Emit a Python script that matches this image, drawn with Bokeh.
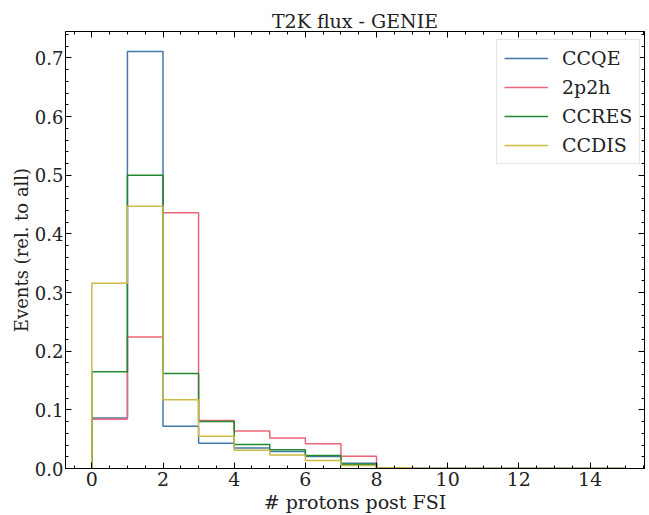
from bokeh.plotting import figure
from bokeh.models import (Range1d, LinearAxis, SingleIntervalTicker,
                          NumeralTickFormatter, Legend, LegendItem)
from bokeh.embed import file_html
from bokeh.resources import INLINE

# ---- data ----
bin_edges = list(range(0, 16))
ccqe  = [0.086, 0.711, 0.072, 0.043, 0.035, 0.029, 0.0205, 0.009, 0.0, 0, 0, 0, 0, 0, 0]
p2p2h = [0.084, 0.224, 0.436, 0.082, 0.064, 0.052, 0.042, 0.021, 0.001, 0, 0, 0, 0, 0, 0]
ccres = [0.165, 0.500, 0.162, 0.080, 0.041, 0.032, 0.022, 0.0073, 0.0, 0, 0, 0, 0, 0, 0]
ccdis = [0.316, 0.447, 0.117, 0.055, 0.031, 0.023, 0.0137, 0.005, 0.001, 0, 0, 0, 0, 0, 0]
series_names = ["CCQE", "2p2h", "CCRES", "CCDIS"]
series_vals = [ccqe, p2p2h, ccres, ccdis]
colors = ["#4477AA", "#EE6677", "#228833", "#CCBB44"]

title_text = "T2K flux - GENIE"
x_label = "# protons post FSI"
y_label = "Events (rel. to all)"

FONT = "DejaVu Serif"
FS = "19px"


def step_path(edges, vals):
    xs = [edges[0]]
    ys = [0.0]
    for i, v in enumerate(vals):
        xs += [edges[i], edges[i + 1]]
        ys += [v, v]
    xs.append(edges[-1])
    ys.append(0.0)
    return xs, ys


p = figure(width=649, height=515, output_backend="svg", toolbar_location=None,
           x_range=Range1d(-0.74, 15.53), y_range=Range1d(0, 0.745),
           x_axis_type=None, y_axis_type=None,
           min_border_left=65, min_border_right=5, min_border_top=31,
           min_border_bottom=47)
p.background_fill_color = "white"
p.border_fill_color = "white"
p.outline_line_color = "black"
p.outline_line_width = 1

xt = SingleIntervalTicker(interval=2, num_minor_ticks=4)
yt = SingleIntervalTicker(interval=0.1, num_minor_ticks=5)


def style_axis(ax, show_labels):
    ax.axis_line_color = "black"
    ax.axis_line_width = 1
    ax.major_tick_in = 6
    ax.major_tick_out = 0
    ax.minor_tick_in = 3
    ax.minor_tick_out = 0
    ax.major_tick_line_color = "black"
    ax.minor_tick_line_color = "black"
    ax.major_label_text_font = FONT
    ax.axis_label_text_font = FONT
    ax.axis_label_text_font_size = FS
    ax.axis_label_text_font_style = "normal"
    ax.axis_label_text_color = "#222222"
    if show_labels:
        ax.major_label_text_font_size = FS
        ax.major_label_text_color = "#222222"
    else:
        ax.major_label_text_font_size = "1px"
        ax.major_label_text_color = None
        ax.major_label_standoff = 0


xb = LinearAxis(ticker=xt, axis_label=x_label)
style_axis(xb, True)
xb.major_label_standoff = 3
xb.axis_label_standoff = 2
p.add_layout(xb, "below")

yl = LinearAxis(ticker=yt, axis_label=y_label,
                formatter=NumeralTickFormatter(format="0.0"))
style_axis(yl, True)
yl.major_label_standoff = 2
yl.axis_label_standoff = 0
yl.major_label_text_font_size = "18px"
yl.axis_label_text_font_size = "18px"
p.add_layout(yl, "left")

xtop = LinearAxis(ticker=xt)
style_axis(xtop, False)
p.add_layout(xtop, "above")
yr = LinearAxis(ticker=yt)
style_axis(yr, False)
p.add_layout(yr, "right")

p.xgrid.ticker = xt
p.ygrid.ticker = yt
for g in (p.xgrid, p.ygrid):
    g.grid_line_color = "#8a8a8a"
    g.grid_line_dash = "2 2"
    g.grid_line_width = 0.8

items = []
for name, vals, c in zip(series_names, series_vals, colors):
    xs, ys = step_path(bin_edges, vals)
    r = p.line(xs, ys, line_color=c, line_width=1.5)
    items.append(LegendItem(label=name, renderers=[r]))

legend = Legend(items=items, location=(431, 304))
legend.label_text_font = FONT
legend.label_text_font_size = FS
legend.label_text_color = "#222222"
legend.glyph_width = 44
legend.glyph_height = 22
legend.label_height = 22
legend.label_standoff = 14
legend.spacing = 7
legend.padding = 7
legend.margin = 0
legend.border_line_color = "#cccccc"
legend.border_line_width = 1
legend.background_fill_alpha = 0.9
p.add_layout(legend, "center")

p.title.text = title_text
p.title.align = "center"
p.title.text_font = FONT
p.title.text_font_size = FS
p.title.text_font_style = "normal"
p.title.text_color = "#222222"
p.title.standoff = 0

open("out.html", "w").write(file_html(p, INLINE))
